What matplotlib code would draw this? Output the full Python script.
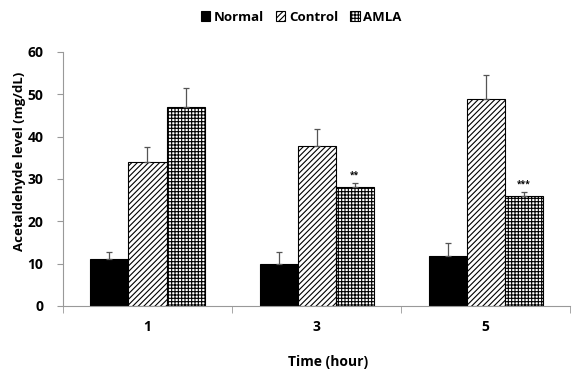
import numpy as np
import matplotlib.pyplot as plt

plt.rcParams['font.family'] = ['Open Sans', 'DejaVu Sans']
plt.rcParams['hatch.linewidth'] = 0.8

# data
times = ['1', '3', '5']
groups = ['Normal', 'Control', 'AMLA']
normal = [11.0, 9.8, 11.8]
control = [34.0, 37.7, 48.9]
amla = [47.0, 28.1, 26.0]
normal_err = [1.7, 2.9, 3.1]
control_err = [3.6, 4.1, 5.7]
amla_err = [4.5, 0.9, 1.0]
stars = ['', '**', '***']

fig = plt.figure(figsize=(5.72, 3.74), dpi=100)
ax = fig.add_axes([0.110, 0.182, 0.887, 0.679])

x = np.arange(len(times))
w = 0.225
styles = [dict(color='black', hatch=None),
          dict(color='white', hatch='//////'),
          dict(color='white', hatch='+++++')]
series = [normal, control, amla]
errs = [normal_err, control_err, amla_err]

for i, (vals, err, st) in enumerate(zip(series, errs, styles)):
    pos = x + (i - 1) * w
    ax.bar(pos, vals, w, color=st['color'], hatch=st['hatch'],
           edgecolor='black', linewidth=0.8, label=groups[i])
    ax.errorbar(pos, vals, yerr=[np.zeros(len(vals)), err], fmt='none',
                ecolor='#555555', elinewidth=0.9, capsize=2, capthick=0.9)

for j, s in enumerate(stars):
    if s:
        ax.text(x[j] + w, amla[j] + amla_err[j] + 0.8, s, ha='center',
                va='bottom', fontsize=6, fontweight='bold')

ax.set_xlim(-0.5, 2.5)
ax.set_ylim(0, 60)
ax.set_yticks(range(0, 61, 10))
ax.set_xticks(x)
ax.set_xticklabels(times)
ax.set_xticks([-0.5, 0.5, 1.5, 2.5], minor=True)
ax.tick_params(axis='x', which='major', length=0, pad=10)
ax.tick_params(axis='x', which='minor', length=5, color='#999999')
ax.tick_params(axis='y', length=4, color='#999999', pad=10)
for lab in ax.get_xticklabels() + ax.get_yticklabels():
    lab.set_fontweight('bold')
    lab.set_fontsize(10)

for sp in ['top', 'right']:
    ax.spines[sp].set_visible(False)
ax.spines['left'].set_color('#999999')
ax.spines['bottom'].set_color('#999999')

fig.text(20 / 572, 1 - 161 / 374, 'Acetaldehyde level (mg/dL)', rotation=90,
         ha='center', va='center', fontsize=9.5, fontweight='bold')
fig.text(328 / 572, 1 - 362 / 374, 'Time (hour)', ha='center', va='center',
         fontsize=10, fontweight='bold')

leg = ax.legend(loc='upper center', bbox_to_anchor=(0.47, 1.21), ncol=3, frameon=False,
                prop={'weight': 'bold', 'size': 9.5}, handlelength=0.7, handleheight=0.7,
                handletextpad=0.3, columnspacing=0.9)

fig.savefig('out.png', dpi=100)
